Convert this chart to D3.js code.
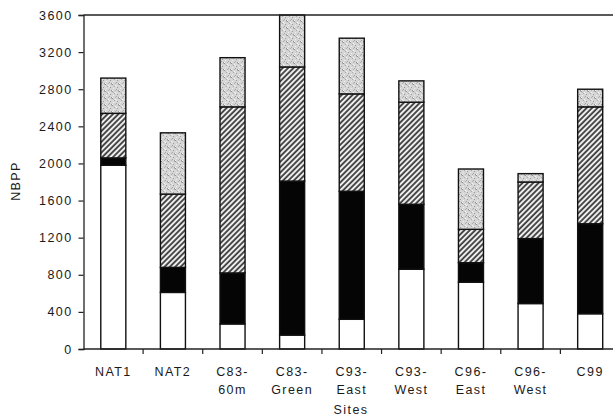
<!DOCTYPE html>
<html>
<head>
<meta charset="utf-8">
<script src="https://cdn.jsdelivr.net/npm/d3@7"></script>
<style>
  body { margin: 0; background: #fff; }
  text { font-family: "Liberation Sans", Arial, sans-serif; fill: #1a1a1a; }
</style>
</head>
<body>
<svg id="chart"></svg>
<script>
// sites and stacked segment heights (bottom to top)
const sites = [["NAT1"], ["NAT2"], ["C83-", "60m"], ["C83-", "Green"], ["C93-", "East"],
               ["C93-", "West"], ["C96-", "East"], ["C96-", "West"], ["C99"]];
const whiteSeg   = [1980, 610, 270, 150, 320, 860, 720, 490, 380];
const blackSeg   = [80, 270, 550, 1660, 1380, 700, 210, 700, 970];
const hatchSeg   = [480, 790, 1790, 1230, 1050, 1100, 360, 610, 1260];
const stippleSeg = [380, 660, 530, 560, 600, 230, 650, 90, 190];
const yTicks = [0, 400, 800, 1200, 1600, 2000, 2400, 2800, 3200, 3600];

const w = 613, h = 420;
const mLeft = 83.5, mTop = 15, mBottom = 349;

const svg = d3.select('#chart')
    .attr('width', w)
    .attr('height', h);

const defs = svg.append('defs');

// diagonal hatch
const hatch = defs.append('pattern')
    .attr('id', 'hatch')
    .attr('patternUnits', 'userSpaceOnUse')
    .attr('width', 3.8).attr('height', 3.8)
    .attr('patternTransform', 'rotate(45)');
hatch.append('rect').attr('width', 3.8).attr('height', 3.8).attr('fill', '#eeeeee');
hatch.append('line')
    .attr('x1', 1).attr('y1', 0).attr('x2', 1).attr('y2', 3.8)
    .attr('stroke', '#333').attr('stroke-width', 1.7);

// grey stipple
const stip = defs.append('pattern')
    .attr('id', 'stipple')
    .attr('patternUnits', 'userSpaceOnUse')
    .attr('width', 7).attr('height', 7);
stip.append('rect').attr('width', 7).attr('height', 7).attr('fill', '#d6d6d6');
[[0,0,'#8f8f8f'],[3,1,'#f2f2f2'],[5,3,'#9a9a9a'],[1,4,'#eeeeee'],[4,5,'#a4a4a4'],
 [6,0,'#b8b8b8'],[2,2,'#aaaaaa'],[0,6,'#f6f6f6'],[6,6,'#959595'],[4,2,'#ececec'],
 [1,1,'#c0c0c0'],[3,6,'#b0b0b0']].forEach(d => {
    stip.append('rect').attr('x', d[0]).attr('y', d[1])
        .attr('width', 1).attr('height', 1).attr('fill', d[2]);
});

const names = sites.map(d => d.join(''));

const xScale = d3.scaleBand()
    .domain(names)
    .range([mLeft, 620])
    .paddingInner(0.58)
    .paddingOuter(0.29);

const yScale = d3.scaleLinear()
    .domain([0, 3600])
    .range([mBottom, mTop]);

// stack
const keys = ['white', 'black', 'hatch', 'stipple'];
const rows = names.map((n, i) => ({
    site: n, white: whiteSeg[i], black: blackSeg[i], hatch: hatchSeg[i], stipple: stippleSeg[i]
}));
const stacked = d3.stack().keys(keys)(rows);
const fills = { white: '#ffffff', black: '#050505', hatch: 'url(#hatch)', stipple: 'url(#stipple)' };

stacked.forEach(layer => {
    svg.append('g')
        .selectAll('rect')
        .data(layer)
        .join('rect')
            .attr('x', d => xScale(d.data.site))
            .attr('y', d => yScale(d[1]))
            .attr('width', xScale.bandwidth())
            .attr('height', d => yScale(d[0]) - yScale(d[1]))
            .attr('fill', fills[layer.key])
            .attr('stroke', '#111')
            .attr('stroke-width', 1.4);
});

// y axis
const yAxis = d3.axisLeft(yScale)
    .tickValues(yTicks)
    .tickSize(5)
    .tickPadding(6)
    .tickFormat(d3.format('d'));
const gy = svg.append('g')
    .attr('transform', `translate(${mLeft},0)`)
    .call(yAxis);
gy.attr('font-family', null).attr('font-size', null);
gy.select('.domain').attr('stroke', '#222').attr('stroke-width', 1.3);
gy.selectAll('.tick line').attr('stroke', '#222').attr('stroke-width', 1.2);
gy.selectAll('.tick text')
    .style('font-size', '12.5px')
    .style('letter-spacing', '1.4px')
    .attr('fill', '#1a1a1a');

// top frame line and x axis line
svg.append('line')
    .attr('x1', mLeft).attr('x2', w).attr('y1', mTop).attr('y2', mTop)
    .attr('stroke', '#222').attr('stroke-width', 1.3);
svg.append('line')
    .attr('x1', mLeft).attr('x2', w).attr('y1', mBottom).attr('y2', mBottom)
    .attr('stroke', '#222').attr('stroke-width', 1.3);

// x ticks between categories
const step = xScale.step();
svg.append('g')
    .selectAll('line')
    .data(names.slice(0, -1))
    .join('line')
        .attr('x1', d => xScale(d) + xScale.bandwidth() / 2 + step / 2)
        .attr('x2', d => xScale(d) + xScale.bandwidth() / 2 + step / 2)
        .attr('y1', mBottom).attr('y2', mBottom + 5)
        .attr('stroke', '#222').attr('stroke-width', 1.2);

// category labels
const lab = svg.append('g')
    .selectAll('text')
    .data(sites)
    .join('text')
        .attr('text-anchor', 'middle')
        .style('font-size', '12.5px')
        .style('letter-spacing', '1.4px')
        .attr('y', 376);
lab.each(function(d, i) {
    const t = d3.select(this);
    d.forEach((s, j) => {
        t.append('tspan')
            .attr('x', xScale(names[i]) + xScale.bandwidth() / 2)
            .attr('dy', j === 0 ? 0 : 18)
            .text(s);
    });
});

// axis titles
svg.append('text')
    .attr('x', 351).attr('y', 414)
    .attr('text-anchor', 'middle')
    .style('font-size', '12.5px')
    .style('letter-spacing', '1.4px')
    .text('Sites');

svg.append('text')
    .attr('transform', 'translate(20,181) rotate(-90)')
    .attr('text-anchor', 'middle')
    .style('font-size', '12.5px')
    .style('letter-spacing', '1.4px')
    .text('NBPP');
</script>
</body>
</html>
